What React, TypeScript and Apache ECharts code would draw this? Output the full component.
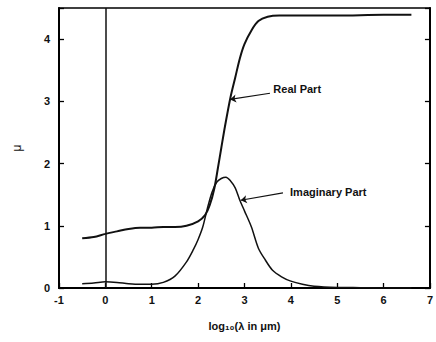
import React, { useEffect, useRef } from "react";
import * as echarts from "echarts";

const realX = [-0.5, -0.25, 0, 0.25, 0.5, 0.75, 1.0, 1.25, 1.5, 1.75, 2.0, 2.15, 2.25, 2.35, 2.43, 2.5, 2.58, 2.7, 2.8, 2.9, 3.0, 3.15, 3.3, 3.5, 3.75, 4.0, 5.0, 6.0, 6.6];
const realY = [0.80, 0.82, 0.87, 0.91, 0.95, 0.97, 0.97, 0.98, 0.98, 1.0, 1.07, 1.17, 1.33, 1.6, 1.94, 2.25, 2.6, 3.07, 3.38, 3.69, 3.92, 4.14, 4.29, 4.36, 4.38, 4.38, 4.38, 4.39, 4.39];

const imagX = [-0.5, -0.25, 0, 0.25, 0.5, 0.75, 1.0, 1.25, 1.5, 1.75, 1.9, 2.0, 2.1, 2.2, 2.3, 2.4, 2.5, 2.6, 2.7, 2.8, 2.9, 3.0, 3.15, 3.3, 3.45, 3.6, 3.8, 4.0, 4.25, 4.5, 5.0, 5.5, 6.0, 6.6];
const imagY = [0.07, 0.08, 0.10, 0.09, 0.07, 0.06, 0.06, 0.09, 0.19, 0.42, 0.62, 0.78, 0.98, 1.28, 1.54, 1.70, 1.76, 1.78, 1.72, 1.61, 1.41, 1.24, 0.98, 0.64, 0.45, 0.29, 0.18, 0.11, 0.06, 0.03, 0.01, 0.005, 0.0, 0.0];

const xTicks = { min: -1, max: 7, interval: 1 };
const yTicks = { min: 0, max: 4.5, interval: 1 };

const labels = ["Real Part", "Imaginary Part"];
const labelAt = [[3.58, 3.2], [3.94, 1.54]];
const arrowFrom = [[3.55, 3.13], [3.83, 1.53]];
const arrowTo = [[2.69, 3.03], [2.92, 1.41]];

const FONT = "'Liberation Sans', Arial, sans-serif";

export default function App() {
  const ref = useRef<HTMLDivElement>(null);
  useEffect(() => {
    if (!ref.current) return;
    const chart = echarts.init(ref.current, null, { renderer: "svg" });
    const mkLine = (w: number) => ({ show: true, onZero: false, lineStyle: { color: "#000", width: w } });
    const mkTick = () => ({ show: true, inside: true, length: 5, lineStyle: { color: "#000", width: 1.3 } });
    const tickLabel = { color: "#111", fontFamily: FONT, fontWeight: "bold" as const, fontSize: 11 };
    chart.setOption({
      animation: false,
      backgroundColor: "#fff",
      grid: { left: 59, right: 6, top: 8, bottom: 54, show: true, borderColor: "#000", borderWidth: 1.5, backgroundColor: "transparent" },
      xAxis: {
        type: "value",
        ...xTicks,
        position: "bottom",
        axisLine: mkLine(2),
        axisTick: mkTick(),
        axisLabel: { ...tickLabel, margin: 6, showMaxLabel: true, showMinLabel: true },
        splitLine: { show: false },
        name: "log\u2081\u2080(\u03bb in \u03bcm)",
        nameLocation: "middle",
        nameGap: 32,
        nameTextStyle: { color: "#111", fontFamily: FONT, fontWeight: "bold", fontSize: 11 },
      },
      yAxis: [
        {
          type: "value",
          ...yTicks,
          position: "left",
          axisLine: mkLine(2),
          axisTick: mkTick(),
          axisLabel: {
            ...tickLabel,
            margin: 9,
            formatter: (v: number) => (Number.isInteger(v) ? String(v) : ""),
          },
          splitLine: { show: false },
          name: "\u03bc",
          nameLocation: "middle",
          nameGap: 36,
          nameTextStyle: { color: "#111", fontFamily: FONT, fontSize: 12 },
        },
        {
          type: "value",
          ...yTicks,
          position: "right",
          axisLine: mkLine(2),
          axisTick: mkTick(),
          axisLabel: { show: false },
          splitLine: { show: false },
        },
      ],
      series: [
        {
          name: "Real Part",
          type: "line",
          data: realX.map((x, i) => [x, realY[i]]),
          smooth: 0.3,
          symbol: "none",
          lineStyle: { color: "#111", width: 2 },
          markLine: {
            silent: true,
            symbol: ["none", "none"],
            label: { show: false },
            lineStyle: { color: "#111", width: 1.5, type: "solid" },
            data: [{ xAxis: 0 }],
          },
        },
        {
          name: "Imaginary Part",
          type: "line",
          data: imagX.map((x, i) => [x, imagY[i]]),
          smooth: 0.3,
          symbol: "none",
          lineStyle: { color: "#111", width: 1.5 },
          markLine: {
            silent: true,
            symbol: ["none", "arrow"],
            symbolSize: 6,
            label: { show: false },
            lineStyle: { color: "#111", width: 1.2, type: "solid" },
            data: arrowFrom.map((p, i) => [{ coord: p }, { coord: arrowTo[i] }]),
          },
          markPoint: {
            silent: true,
            symbol: "circle",
            symbolSize: 0,
            itemStyle: { color: "transparent" },
            label: {
              show: true,
              position: "right",
              distance: 2,
              color: "#111",
              fontFamily: FONT,
              fontWeight: "bold",
              fontSize: 11,
              formatter: (p: any) => p.name,
            },
            data: labels.map((name, i) => ({ name, coord: labelAt[i] })),
          },
        },
      ],
    });
    return () => chart.dispose();
  }, []);
  return <div ref={ref} style={{ position: "absolute", left: 0, top: 0, width: 436, height: 342 }} />;
}
